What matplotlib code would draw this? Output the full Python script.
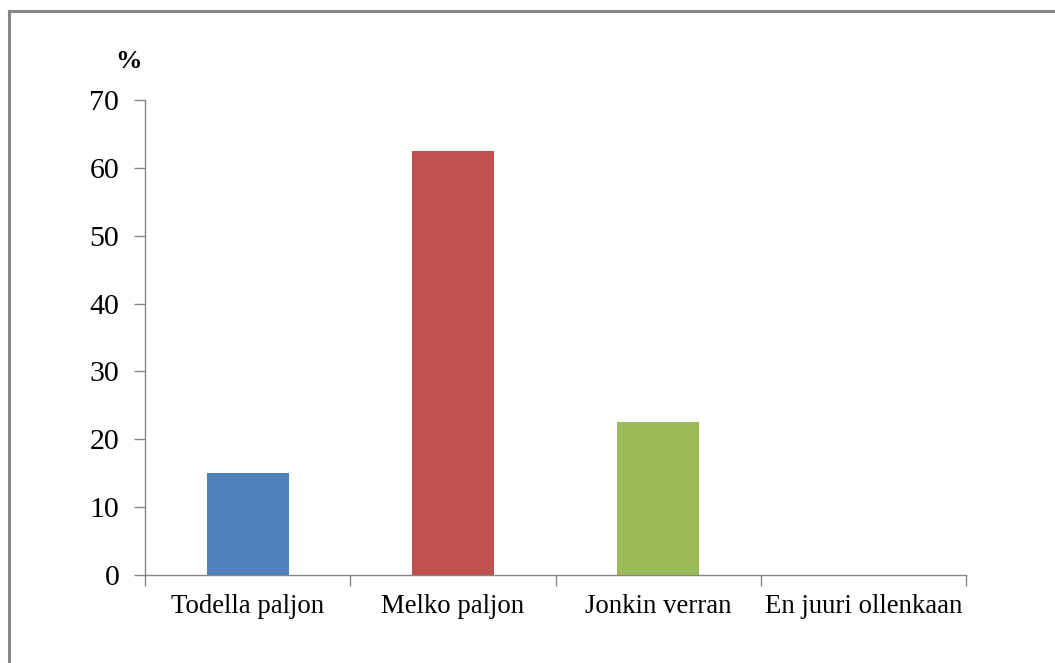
import matplotlib.pyplot as plt
from matplotlib.lines import Line2D
from matplotlib.ticker import FixedLocator, NullFormatter

# answer shares per category (%)
categories = ["Todella paljon", "Melko paljon", "Jonkin verran", "En juuri ollenkaan"]
shares = [15.0, 62.5, 22.5, 0.0]
colors = ["#4F81BD", "#C0504D", "#9BBB59", "#8064A2"]
yticks = [0, 10, 20, 30, 40, 50, 60, 70]

plt.rcParams["font.family"] = ["Liberation Serif", "DejaVu Serif"]

W, H = 1055, 663
fig = plt.figure(figsize=(W / 100, H / 100), dpi=100)
ax = fig.add_axes([145 / W, 1 - 575 / H, (966 - 145) / W, (575 - 100) / H])

x = list(range(len(categories)))
ax.bar(x, shares, width=0.4, color=colors, zorder=2)

ax.set_xlim(-0.5, len(categories) - 0.5)
ax.set_ylim(0, 70)
ax.set_yticks(yticks)
ax.set_yticklabels([str(v) for v in yticks], fontsize=21.5)

ax.set_xticks(x)
ax.set_xticklabels(categories, fontsize=19.3)
ax.tick_params(axis="x", which="major", length=0, pad=14)
ax.xaxis.set_minor_locator(FixedLocator([i - 0.5 for i in range(len(categories) + 1)]))
ax.xaxis.set_minor_formatter(NullFormatter())
ax.tick_params(axis="x", which="minor", length=8, width=1, color="#868686", direction="out")
ax.tick_params(axis="y", length=8, width=1, color="#868686", direction="out", pad=10.5)

for side in ("top", "right"):
    ax.spines[side].set_visible(False)
for side in ("left", "bottom"):
    ax.spines[side].set_color("#868686")
    ax.spines[side].set_linewidth(1)

fig.text(128.5 / W, 1 - 62 / H, "%", fontsize=19, fontweight="bold", ha="center", va="center")

# chart area frame
fig.add_artist(Line2D([9 / W, 1.0], [1 - 11 / H, 1 - 11 / H], color="#868686", lw=2.2, transform=fig.transFigure))
fig.add_artist(Line2D([9 / W, 9 / W], [0.0, 1 - 11 / H], color="#868686", lw=2.2, transform=fig.transFigure))

fig.savefig("out.png", dpi=100)
